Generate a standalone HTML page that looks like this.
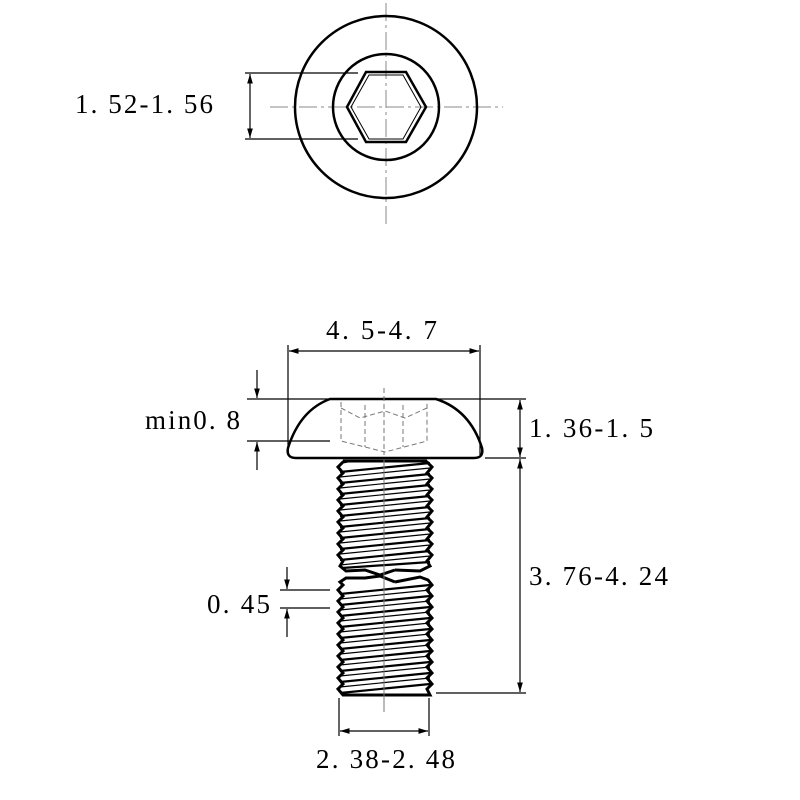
<!DOCTYPE html>
<html><head><style>body{margin:0;background:#fff}svg{display:block}</style></head><body>
<svg width="800" height="800" viewBox="0 0 800 800" xmlns="http://www.w3.org/2000/svg" font-family="Liberation Serif, serif" font-size="27" fill="none" stroke="#000">
<defs>
<marker id="a" viewBox="0 0 10 10" refX="10" refY="5" markerWidth="8" markerHeight="8" orient="auto-start-reverse"><path d="M0,2 L10,5 L0,8 Z" fill="#000" stroke="none"/></marker>
</defs>
<!-- top view -->
<g stroke="#888" stroke-width="1" stroke-dasharray="18,4,3,4">
<line x1="386" y1="3" x2="386" y2="224"/>
<line x1="270" y1="107" x2="503" y2="107"/>
</g>
<circle cx="386" cy="107" r="91" stroke-width="2.5"/>
<circle cx="386" cy="107" r="53" stroke-width="2.5"/>
<polygon points="347,107 366,72 406,72 426,107 406,142 366,142" stroke-width="2.5"/>
<polygon points="351,107 369,75 403,75 421,107 403,139 369,139" stroke-width="1"/>
<g stroke-width="1.2">
<line x1="245" y1="73" x2="358" y2="73"/>
<line x1="245" y1="139" x2="358" y2="139"/>
<line x1="250" y1="74" x2="250" y2="138" marker-start="url(#a)" marker-end="url(#a)"/>
</g>
<text x="75" y="113" fill="#000" stroke="none" textLength="138">1. 52-1. 56</text>

<!-- side view head -->
<path d="M330,399 L436,399 Q470,410 482,448 Q484,458 474,458 L296,458 Q286,458 288,448 Q300,410 330,399 Z" stroke-width="2.5"/>
<g stroke="#777" stroke-width="1" stroke-dasharray="5,3">
<path d="M341,402 L341,441 L385,452 L427,441 L427,402"/>
<path d="M341,408 L360,418 L385,411 L405,418 L427,408"/>
<line x1="365" y1="405" x2="365" y2="447"/>
<line x1="403" y1="405" x2="403" y2="447"/>
<line x1="384" y1="388" x2="384" y2="455"/>
</g>
<!-- shank -->
<g stroke-width="3">
<polyline points="348,461 343,462 338,467 343,473 338,478 343,484 338,489 343,495 338,500 343,506 338,511 343,517 338,522 343,528 338,533 343,539 338,544 343,550 338,555 343,561 340,566 346,571 365,570 380,575 395,570"/>
<polyline points="421,461 427,462 432,467 427,473 432,478 427,484 432,489 427,495 432,500 427,506 432,511 427,517 432,522 427,528 432,533 427,539 432,544 427,550 432,555 427,561 430,566 420,571 395,570"/>
<line x1="343" y1="461" x2="427" y2="461"/>
<polyline points="395,582 380,576 365,578 346,578 340,582 343,585 338,590 343,596 338,601 343,607 338,612 343,618 338,623 343,629 338,634 343,640 338,645 343,651 338,656 343,662 338,667 343,673 338,678 343,684 338,689 343,695 430,695 427,689 432,684 427,678 432,673 427,667 432,662 427,656 432,651 427,645 432,640 427,634 432,629 427,623 432,618 427,612 432,607 427,601 432,596 427,590 432,585 428,580 420,577 395,582"/>
</g>
<g stroke-width="2.2">
<path d="M340,472 L430,463 M340,483 L430,474 M340,494 L430,485 M340,505 L430,496 M340,516 L430,507 M340,527 L430,518 M340,538 L430,529 M340,549 L430,540 M340,560 L430,551 M342,568 L430,562"/>
<path d="M340,594 L430,585 M340,605 L430,596 M340,616 L430,607 M340,627 L430,618 M340,638 L430,629 M340,649 L430,640 M340,660 L430,651 M340,671 L430,662 M340,682 L430,673 M340,693 L430,684"/>
</g>
<g stroke-width="1.2">
<path d="M340,477 L430,468 M340,488 L430,479 M340,499 L430,490 M340,510 L430,501 M340,521 L430,512 M340,532 L430,523 M340,543 L430,534 M340,554 L430,545 M340,565 L430,556"/>
<path d="M340,599 L430,590 M340,610 L430,601 M340,621 L430,612 M340,632 L430,623 M340,643 L430,634 M340,654 L430,645 M340,665 L430,656 M340,676 L430,667 M340,687 L430,678"/>
</g>
<line x1="384" y1="460" x2="384" y2="712" stroke="#777" stroke-width="1"/>
<!-- dims -->
<g stroke-width="1.2">
<line x1="288" y1="345" x2="288" y2="455"/>
<line x1="480" y1="345" x2="480" y2="455"/>
<line x1="289" y1="351" x2="479" y2="351" marker-start="url(#a)" marker-end="url(#a)"/>
<line x1="247" y1="399" x2="330" y2="399"/>
<line x1="247" y1="441" x2="330" y2="441"/>
<line x1="257" y1="370" x2="257" y2="398" marker-end="url(#a)"/>
<line x1="257" y1="470" x2="257" y2="442" marker-end="url(#a)"/>
<line x1="436" y1="399" x2="526" y2="399"/>
<line x1="485" y1="458" x2="526" y2="458"/>
<line x1="436" y1="693" x2="526" y2="693"/>
<line x1="520" y1="400" x2="520" y2="457" marker-start="url(#a)" marker-end="url(#a)"/>
<line x1="520" y1="459" x2="520" y2="692" marker-start="url(#a)" marker-end="url(#a)"/>
<line x1="280" y1="590" x2="330" y2="590"/>
<line x1="280" y1="608" x2="330" y2="608"/>
<line x1="287" y1="567" x2="287" y2="589" marker-end="url(#a)"/>
<line x1="287" y1="637" x2="287" y2="609" marker-end="url(#a)"/>
<line x1="339" y1="698" x2="339" y2="736"/>
<line x1="429" y1="698" x2="429" y2="736"/>
<line x1="340" y1="731" x2="428" y2="731" marker-start="url(#a)" marker-end="url(#a)"/>
</g>
<g fill="#000" stroke="none">
<text x="326" y="339" textLength="111">4. 5-4. 7</text>
<text x="145" y="429" textLength="95">min0. 8</text>
<text x="529" y="437" textLength="124">1. 36-1. 5</text>
<text x="529" y="585" textLength="139">3. 76-4. 24</text>
<text x="207" y="613" textLength="63">0. 45</text>
<text x="316" y="768" textLength="139">2. 38-2. 48</text>
</g>
</svg>
</body></html>
